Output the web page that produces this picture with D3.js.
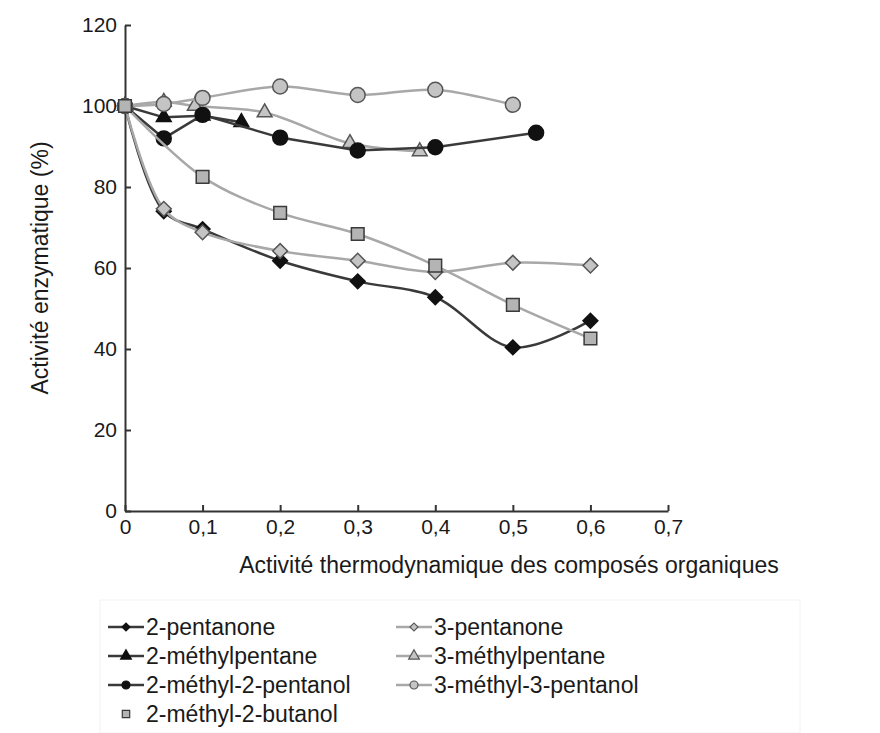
<!DOCTYPE html>
<html>
<head>
    <title>Activité enzymatique</title>
    <script src="https://d3js.org/d3.v7.min.js"></script>
    <style>
        body { margin: 0; background: #fff; }
        text { font-family: "Liberation Sans", Arial, sans-serif; fill: #1a1a1a; }
    </style>
</head>
<body>
    <div id="chart"></div>

    <script>
        // Data (x = thermodynamic activity, y = % activity)
        var xPentanone2 = [0, 0.05, 0.1, 0.2, 0.3, 0.4, 0.5, 0.6];
        var yPentanone2 = [100, 74, 69.6, 61.8, 56.7, 52.8, 40.4, 47];

        var xPentanone3 = [0, 0.05, 0.1, 0.2, 0.3, 0.4, 0.5, 0.6];
        var yPentanone3 = [100, 74.6, 68.8, 64.2, 61.8, 59, 61.3, 60.6];

        var xMethylpentane2 = [0, 0.05, 0.1, 0.15];
        var yMethylpentane2 = [100, 97.2, 97.6, 96];

        var xMethylpentane3 = [0, 0.05, 0.09, 0.18, 0.29, 0.38];
        var yMethylpentane3 = [100, 101, 100, 98.4, 90.8, 88.8];

        var xMethylPentanol2 = [0, 0.05, 0.1, 0.2, 0.3, 0.4, 0.53];
        var yMethylPentanol2 = [100, 92, 97.8, 92.2, 89, 89.8, 93.4];

        var xMethylPentanol3 = [0, 0.05, 0.1, 0.2, 0.3, 0.4, 0.5];
        var yMethylPentanol3 = [100, 100.5, 102, 104.8, 102.7, 104, 100.3];

        var xMethylButanol2 = [0, 0.1, 0.2, 0.3, 0.4, 0.5, 0.6];
        var yMethylButanol2 = [100, 82.5, 73.6, 68.4, 60.6, 50.9, 42.6];

        var xTicks = [0, 0.1, 0.2, 0.3, 0.4, 0.5, 0.6, 0.7];
        var yTicks = [0, 20, 40, 60, 80, 100, 120];

        var dark = "#3a3a3a", light = "#a8a8a8";

        // series, in drawing order
        var series = [
            { name: "2-pentanone", xs: xPentanone2, ys: yPentanone2, shape: "diamond", line: dark, fill: "#111", stroke: "#111", smooth: true },
            { name: "3-pentanone", xs: xPentanone3, ys: yPentanone3, shape: "diamond", line: light, fill: "#c4c4c4", stroke: "#555", smooth: true },
            { name: "2-méthylpentane", xs: xMethylpentane2, ys: yMethylpentane2, shape: "triangle", line: dark, fill: "#111", stroke: "#111", smooth: false },
            { name: "3-méthylpentane", xs: xMethylpentane3, ys: yMethylpentane3, shape: "triangle", line: light, fill: "#c4c4c4", stroke: "#555", smooth: true },
            { name: "2-méthyl-2-pentanol", xs: xMethylPentanol2, ys: yMethylPentanol2, shape: "circle", line: dark, fill: "#111", stroke: "#111", smooth: false },
            { name: "3-méthyl-3-pentanol", xs: xMethylPentanol3, ys: yMethylPentanol3, shape: "circle", line: light, fill: "#c4c4c4", stroke: "#555", smooth: true },
            { name: "2-méthyl-2-butanol", xs: xMethylButanol2, ys: yMethylButanol2, shape: "square", line: light, fill: "#b4b4b4", stroke: "#3a3a3a", smooth: true }
        ];

        var width = 880, height = 733;

        var svg = d3.select("#chart")
            .append("svg")
            .attr("width", width)
            .attr("height", height);

        var x = d3.scaleLinear().domain([0, 0.7]).range([125, 668]);
        var y = d3.scaleLinear().domain([0, 120]).range([511, 25]);

        var symbols = {
            diamond: d3.symbol().type(d3.symbolSquare).size(110),
            triangle: d3.symbol().type(d3.symbolTriangle).size(95),
            circle: d3.symbol().type(d3.symbolCircle).size(175),
            square: d3.symbol().type(d3.symbolSquare).size(160)
        };
        function markerTransform(shape, px, py) {
            return "translate(" + px + "," + py + ")" + (shape == "diamond" ? " rotate(45)" : "");
        }

        // axes
        var frComma = function(d) { return d === 0 ? "0" : d3.format(".1f")(d).replace(".", ","); };

        var xAxis = svg.append("g")
            .attr("transform", "translate(0," + y(0) + ")")
            .call(d3.axisBottom(x).tickValues(xTicks).tickSizeInner(-6).tickSizeOuter(0).tickPadding(8).tickFormat(frComma));

        var yAxis = svg.append("g")
            .attr("transform", "translate(" + x(0) + ",0)")
            .call(d3.axisLeft(y).tickValues(yTicks).tickSizeInner(-6).tickSizeOuter(0).tickPadding(8));

        [xAxis, yAxis].forEach(function(g) {
            g.select(".domain").attr("stroke", "#333").attr("stroke-width", 2);
            g.selectAll(".tick line").attr("stroke", "#333").attr("stroke-width", 2);
            g.selectAll(".tick text").style("font-size", "21px").attr("fill", "#1a1a1a");
        });

        svg.append("text")
            .attr("x", 509)
            .attr("y", 573)
            .style("text-anchor", "middle")
            .style("font-size", "23px")
            .text("Activité thermodynamique des composés organiques");

        svg.append("text")
            .attr("transform", "translate(48,268) rotate(-90)")
            .style("text-anchor", "middle")
            .style("font-size", "23px")
            .text("Activité enzymatique (%)");

        // lines then markers, series by series
        series.forEach(function(s) {
            var pts = s.xs.map(function(v, i) { return [v, s.ys[i]]; });
            var line = d3.line()
                .x(function(d) { return x(d[0]); })
                .y(function(d) { return y(d[1]); })
                .curve(s.smooth ? d3.curveCatmullRom.alpha(0.5) : d3.curveLinear);

            var g = svg.append("g");
            g.append("path")
                .attr("d", line(pts))
                .attr("fill", "none")
                .attr("stroke", s.line)
                .attr("stroke-width", 2.5);

            g.selectAll("path.mark")
                .data(pts)
                .enter().append("path")
                .attr("class", "mark")
                .attr("d", symbols[s.shape])
                .attr("transform", function(d) { return markerTransform(s.shape, x(d[0]), y(d[1])); })
                .attr("fill", s.fill)
                .attr("stroke", s.stroke)
                .attr("stroke-width", 1.5);
        });

        // legend
        var legendSymbols = {
            diamond: d3.symbol().type(d3.symbolSquare).size(32),
            triangle: d3.symbol().type(d3.symbolTriangle).size(50),
            circle: d3.symbol().type(d3.symbolCircle).size(50),
            square: d3.symbol().type(d3.symbolSquare).size(55)
        };
        var legendOrder = ["2-pentanone", "2-méthylpentane", "2-méthyl-2-pentanol", "2-méthyl-2-butanol",
                           "3-pentanone", "3-méthylpentane", "3-méthyl-3-pentanol"];

        svg.append("rect")
            .attr("x", 100).attr("y", 600).attr("width", 700).attr("height", 133)
            .attr("fill", "none").attr("stroke", "#f2f2f2");

        legendOrder.forEach(function(name, i) {
            var s = series.find(function(d) { return d.name == name; });
            var col = i < 4 ? 0 : 1;
            var row = i < 4 ? i : i - 4;
            var lx = col == 0 ? 108 : 396;
            var ly = 627 + row * 29;
            var g = svg.append("g");
            if (s.shape != "square") {
                g.append("line")
                    .attr("x1", lx).attr("x2", lx + 36)
                    .attr("y1", ly).attr("y2", ly)
                    .attr("stroke", s.line).attr("stroke-width", 2.5);
            }
            g.append("path")
                .attr("d", legendSymbols[s.shape])
                .attr("transform", markerTransform(s.shape, lx + 18, ly))
                .attr("fill", s.fill)
                .attr("stroke", s.stroke)
                .attr("stroke-width", 1.2);
            g.append("text")
                .attr("x", lx + 38)
                .attr("y", ly + 8)
                .style("font-size", "23px")
                .text((col == 0 && row == 0 ? " " : "") + name);
        });
    </script>
</body>
</html>
